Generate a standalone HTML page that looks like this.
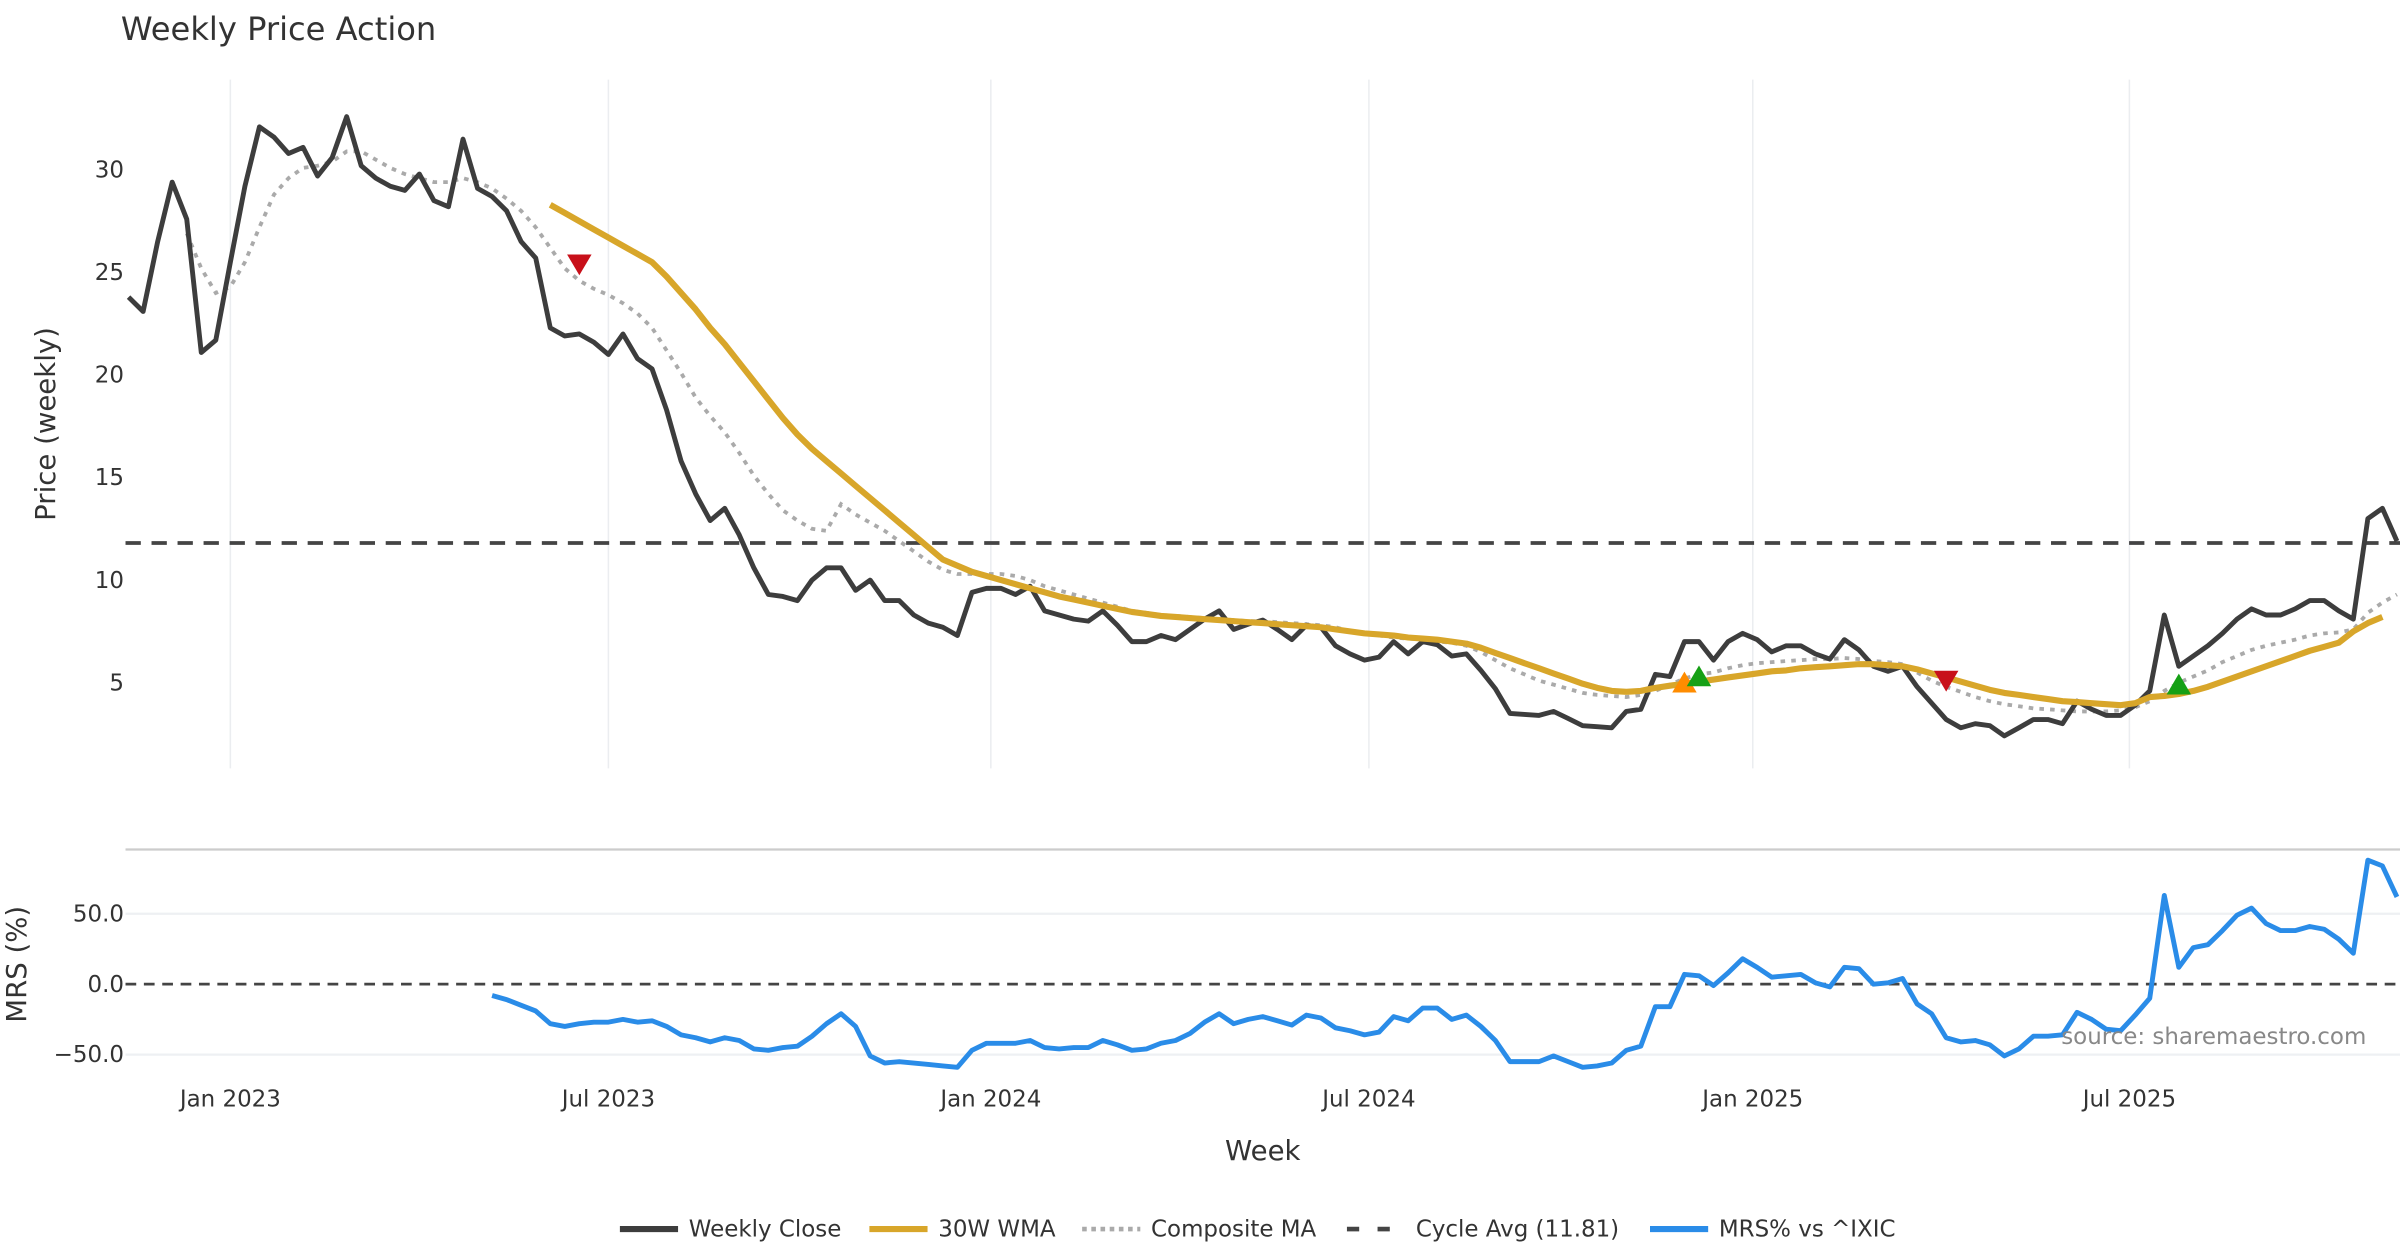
<!DOCTYPE html>
<html><head><meta charset="utf-8"><title>Weekly Price Action</title>
<style>
html,body{margin:0;padding:0;background:#fff;}
svg{display:block;font-family:"DejaVu Sans","Liberation Sans",sans-serif;}
</style></head>
<body>
<svg id="chart" width="2400" height="1260" viewBox="0 0 1568 823.2" xmlns="http://www.w3.org/2000/svg">
  <rect width="1568" height="823.2" fill="#fff"/>
  <text x="79" y="26" font-size="21" fill="#333">Weekly Price Action</text>
  <g id="gridG"></g>
  <g id="axesG"></g>
  <defs>
    <clipPath id="clipTop"><rect x="82" y="40" width="1486" height="470"/></clipPath>
    <clipPath id="clipBot"><rect x="82" y="556" width="1486" height="160"/></clipPath>
  </defs>
  <g id="topG" clip-path="url(#clipTop)"></g>
  <g id="botG" clip-path="url(#clipBot)"></g>
  <text x="1546" y="682" font-size="15" fill="#888" text-anchor="end">source: sharemaestro.com</text>
  <text x="825" y="758" font-size="18" fill="#333" text-anchor="middle">Week</text>
  <text transform="translate(36,277) rotate(-90)" font-size="18" fill="#333" text-anchor="middle">Price (weekly)</text>
  <text transform="translate(17,630) rotate(-90)" font-size="18" fill="#333" text-anchor="middle">MRS (%)</text>
  <g id="legendG"></g>
</svg>
<script>
const closeVals=[23.8,23.1,26.5,29.4,27.6,21.1,21.7,25.5,29.2,32.1,31.6,30.8,31.1,29.7,30.6,32.6,30.2,29.6,29.2,29.0,29.8,28.5,28.2,31.5,29.1,28.7,28.0,26.5,25.7,22.3,21.9,22.0,21.6,21.0,22.0,20.8,20.3,18.3,15.8,14.2,12.9,13.5,12.2,10.6,9.3,9.2,9.0,10.0,10.6,10.6,9.5,10.0,9.0,9.0,8.3,7.9,7.7,7.3,9.4,9.6,9.6,9.3,9.7,8.5,8.3,8.1,8.0,8.5,7.8,7.0,7.0,7.3,7.1,7.6,
8.1,8.5,7.6,7.85,8.05,7.6,7.1,7.8,7.7,6.8,6.4,6.1,6.25,7.0,6.4,7.0,6.85,6.3,6.4,5.6,4.7,3.5,3.45,3.4,3.6,3.25,2.9,2.85,2.8,3.6,3.7,5.4,5.3,7.0,7.0,6.1,7.0,7.4,7.1,6.5,6.8,6.8,6.4,6.15,7.1,6.6,5.8,5.55,5.8,4.8,4.0,3.2,2.8,3.0,2.9,2.4,2.8,3.2,3.2,3.0,4.1,3.7,3.4,3.4,3.9,4.6,8.3,5.8,6.3,6.8,7.4,8.1,8.6,8.3,8.3,8.6,9.0,9.0,8.5,8.1,13.0,13.5,11.9];
const compStart=4;
const compVals=[26.9,25.2,24.0,24.3,25.5,27.2,28.8,29.6,30.1,30.2,30.4,30.9,30.9,30.5,30.1,29.8,29.6,29.4,29.4,29.6,29.4,29.1,28.6,28.0,27.2,26.2,25.2,24.6,24.2,23.9,23.5,23.0,22.3,21.2,20.1,18.9,18.0,17.2,16.2,15.1,14.2,13.4,12.9,12.5,12.4,13.7,13.2,12.8,12.4,11.9,11.4,10.9,10.5,10.3,10.3,10.3,10.3,10.2,10.0,9.7,9.5,9.3,9.1,8.9,8.7,8.5,8.4,8.3,8.25,8.2,8.15,8.1,8.05,8.0,8.0,7.95,7.9,7.85,7.8,7.7,7.5,7.4,7.3,7.2,7.15,7.1,7.0,6.95,6.8,6.5,6.1,5.7,5.4,5.1,4.9,4.7,4.5,4.4,4.35,4.3,4.4,4.6,4.9,5.2,5.4,5.5,5.7,5.85,5.95,6.0,6.05,6.1,6.15,6.15,6.2,6.15,6.05,6.0,5.9,5.5,5.1,4.8,4.55,4.3,4.1,3.95,3.85,3.75,3.7,3.65,3.6,3.6,3.6,3.65,3.8,4.1,4.6,5.0,5.3,5.6,6.0,6.3,6.6,6.8,6.95,7.1,7.3,7.4,7.45,7.6,8.4,8.9,9.3];
const wmaStart=29;
const wmaVals=[28.3,27.9,27.5,27.1,26.7,26.3,25.9,25.5,24.8,24.0,23.2,22.3,21.5,20.6,19.7,18.8,17.9,17.1,16.4,15.8,15.2,14.6,14.0,13.4,12.8,12.2,11.6,11.0,10.7,10.4,10.2,10.0,9.8,9.6,9.4,9.2,9.05,8.9,8.75,8.6,8.45,8.35,8.25,8.2,8.15,8.1,8.05,8.0,7.95,7.9,7.85,7.8,7.75,7.7,7.6,7.5,7.4,7.35,7.3,7.2,7.15,7.1,7.0,6.9,6.7,6.45,6.2,5.95,5.7,5.45,5.2,4.95,4.75,4.6,4.55,4.6,4.75,4.85,4.95,5.05,5.15,5.25,5.35,5.45,5.55,5.6,5.7,5.75,5.8,5.85,5.9,5.9,5.85,5.8,5.65,5.45,5.25,5.05,4.85,4.65,4.5,4.4,4.3,4.2,4.1,4.05,4.0,3.95,3.9,4.0,4.3,4.35,4.45,4.6,4.8,5.05,5.3,5.55,5.8,6.05,6.3,6.55,6.75,6.95,7.5,7.9,8.2];
const mrsStart=25;
const mrsVals=[-8,-11,-15,-19,-28,-30,-28,-27,-27,-25,-27,-26,-30,-36,-38,-41,-38,-40,-46,-47,-45,-44,-37,-28,-21,-30,-51,-56,-55,-56,-57,-58,-59,-47,-42,-42,-42,-40,-45,-46,-45,-45,-40,-43,-47,-46,-42,-40,-35,-27,-21,-28,-25,-23,-26,-29,-22,-24,-31,-33,-36,-34,-23,-26,-17,-17,-25,-22,-30,-40,-55,-55,-55,-51,-55,-59,-58,-56,-47,-44,-16,-16,7,6,-1,8,18,12,5,6,7,1,-2,12,11,0,1,4,-14,-21,-38,-41,-40,-43,-51,-46,-37,-37,-36,-20,-25,-32,-33,-22,-10,63,12,26,28,38,49,54,43,38,38,41,39,32,22,88,84,62];
const cycleAvg=11.81;
const priceTicks=[5,10,15,20,25,30];
const mrsTicks=[50,0,-50];
const mrsTickLabels=["50.0","0.0","\u221250.0"];
const dateTickIdx=[7,33,59.3,85.3,111.7,137.6];
const dateTickLabels=["Jan 2023","Jul 2023","Jan 2024","Jul 2024","Jan 2025","Jul 2025"];
const markerIdx=[31,107,108,125,141];
const markerVals=[25.4,5.0,5.3,5.1,4.9];
const markerKinds=["down","up-orange","up","down","up"];

const NS="http://www.w3.org/2000/svg";
const X=i=>84+i*9.5;
const YP=v=>446-(v-5)*13.4;
const YM=v=>643-0.92*v;
function mk(tag,attrs,parent){const e=document.createElementNS(NS,tag);for(const k in attrs)e.setAttribute(k,attrs[k]);parent.appendChild(e);return e;}
const gridG=document.getElementById('gridG'),axesG=document.getElementById('axesG'),topG=document.getElementById('topG'),botG=document.getElementById('botG'),legendG=document.getElementById('legendG');

dateTickIdx.forEach((d,k)=>{
  const x=X(d);
  const g=mk('line',{x1:x,x2:x,y1:52,y2:502,stroke:'#ebedf0','stroke-width':1},gridG);
  
  
  const t=mk('text',{x:x,y:723,'font-size':15,fill:'#333','text-anchor':'middle'},axesG);
  t.textContent=dateTickLabels[k];
  
  
});
priceTicks.forEach(v=>{
  const t=mk('text',{x:81,y:YP(v)+5,'font-size':15,fill:'#333','text-anchor':'end'},axesG);
  t.textContent=v;
  
  
});
const sep=mk('line',{x1:82,x2:1568,y1:555,y2:555,stroke:'#ccc','stroke-width':1.5},gridG);


mrsTicks.forEach((v,k)=>{
  if(v!==0){const l=mk('line',{x1:82,x2:1568,y1:YM(v),y2:YM(v),stroke:'#eef0f3','stroke-width':1.5},gridG);
  
  }
  const t=mk('text',{x:81,y:YM(v)+5,'font-size':15,fill:'#333','text-anchor':'end'},axesG);
  t.textContent=mrsTickLabels[k];
  
  
});
function path(vals,start,yf){return vals.map((v,j)=>(j?'L':'M')+X(start+j).toFixed(1)+','+yf(v).toFixed(1)).join('');}

const ca=mk('line',{x1:82,x2:1568,y1:YP(cycleAvg),y2:YP(cycleAvg),stroke:'#444','stroke-width':2.5,'stroke-dasharray':'10,7'},topG);


const cm=mk('path',{d:path(compVals,compStart,YP),fill:'none',stroke:'#aaa','stroke-width':2.5,'stroke-dasharray':'3,4'},topG);


const cl=mk('path',{d:path(closeVals,0,YP),fill:'none',stroke:'#3d3d3d','stroke-width':3.2,'stroke-linejoin':'round'},topG);


const wm=mk('path',{d:path(wmaVals,wmaStart,YP),fill:'none',stroke:'#d8a62a','stroke-width':4,'stroke-linejoin':'round'},topG);


markerIdx.forEach((i,k)=>{
  const x=X(i),y=YP(markerVals[k]),s=8;
  let d,c;
  if(markerKinds[k]==='down'){d=`M${x-s},${y-s*0.8}L${x+s},${y-s*0.8}L${x},${y+s*0.9}Z`;c='#c8101a';}
  else{d=`M${x-s},${y+s*0.8}L${x+s},${y+s*0.8}L${x},${y-s*0.9}Z`;c=markerKinds[k]==='up'?'#16a016':'#ff8c00';}
  const m=mk('path',{d:d,fill:c},topG);
  
  
});
const zl=mk('line',{x1:82,x2:1568,y1:YM(0),y2:YM(0),stroke:'#444','stroke-width':1.8,'stroke-dasharray':'7,5'},botG);


const ml=mk('path',{d:path(mrsVals,mrsStart,YM),fill:'none',stroke:'#2a8ce8','stroke-width':3.2,'stroke-linejoin':'round'},botG);



const legItems=[
 {x:405,label:'Weekly Close',stroke:'#3d3d3d',w:4,dash:''},
 {x:568,label:'30W WMA',stroke:'#d8a62a',w:4,dash:''},
 {x:707,label:'Composite MA',stroke:'#aaa',w:3,dash:'3,3'},
 {x:880,label:'Cycle Avg (11.81)',stroke:'#444',w:3,dash:'8,12'},
 {x:1078,label:'MRS% vs ^IXIC',stroke:'#2a8ce8',w:4,dash:''}];
legItems.forEach(it=>{
  const g=mk('g',{},legendG);
  
  
  mk('line',{x1:it.x,x2:it.x+38,y1:803,y2:803,stroke:it.stroke,'stroke-width':it.w,'stroke-dasharray':it.dash},g);
  const t=mk('text',{x:it.x+45,y:808,'font-size':15,fill:'#333'},g);
  t.textContent=it.label;
});
</script>
</body></html>
